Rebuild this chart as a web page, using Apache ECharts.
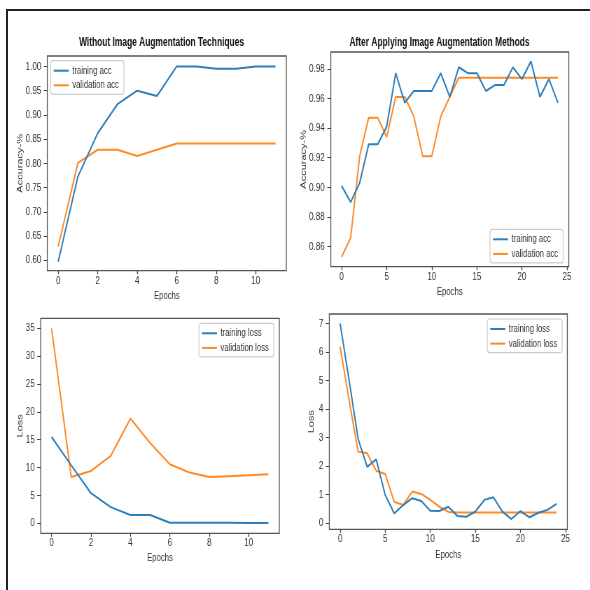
<!DOCTYPE html>
<html>
<head>
<meta charset="utf-8">
<script src="https://cdn.jsdelivr.net/npm/echarts@6/dist/echarts.min.js"></script>
<style>
html,body{margin:0;padding:0;background:#fff;overflow:hidden;}
#wrap{position:relative;width:590px;height:590px;overflow:hidden;}
#chart{position:absolute;left:0;top:0;width:843px;height:590px;transform:scaleX(0.7);transform-origin:0 0;}
#frame{position:absolute;left:6px;top:9px;width:584px;height:581px;border-left:2px solid #222;border-top:2px solid #222;box-sizing:border-box;pointer-events:none;}
</style>
</head>
<body>
<div id="wrap"><div id="chart"></div><div id="frame"></div></div>
<script>
// ---- data ----
const titleLeft = 'Without Image Augmentation Techniques';
const titleRight = 'After Applying Image Augmentation Methods';
const epochsA = [0,1,2,3,4,5,6,7,8,9,10,11];
const trainAccA = [0.597,0.773,0.862,0.922,0.950,0.939,1.000,1.000,0.995,0.995,1.000,1.000];
const valAccA   = [0.628,0.801,0.828,0.828,0.815,0.828,0.841,0.841,0.841,0.841,0.841,0.841];
const trainLossA = [15.5,10.4,5.4,2.9,1.5,1.5,0.1,0.1,0.1,0.1,0.05,0.05];
const valLossA   = [35.0,8.3,9.4,12.1,18.8,14.4,10.6,9.1,8.3,8.45,8.6,8.8];

const epochsB = [0,1,2,3,4,5,6,7,8,9,10,11,12,13,14,15,16,17,18,19,20,21,22,23,24];
const trainAccB = [0.901,0.890,0.903,0.929,0.929,0.941,0.977,0.957,0.965,0.965,0.965,0.977,0.961,0.981,0.977,0.977,0.965,0.969,0.969,0.981,0.973,0.985,0.961,0.973,0.957];
const valAccB   = [0.853,0.866,0.921,0.947,0.947,0.934,0.961,0.961,0.948,0.921,0.921,0.948,0.961,0.974,0.974,0.974,0.974,0.974,0.974,0.974,0.974,0.974,0.974,0.974,0.974];
const trainLossB = [7.0,5.0,2.95,1.98,2.24,0.99,0.35,0.64,0.88,0.78,0.44,0.43,0.58,0.26,0.23,0.41,0.82,0.91,0.41,0.15,0.43,0.21,0.37,0.47,0.68];
const valLossB   = [6.18,4.3,2.51,2.45,1.84,1.73,0.75,0.64,1.11,1.03,0.82,0.58,0.40,0.375,0.375,0.375,0.375,0.375,0.375,0.375,0.375,0.375,0.375,0.375,0.375];

const xTicksA = [0,2,4,6,8,10];
const xTicksB = [0,5,10,15,20,25];
const yTicksAccA = [0.60,0.65,0.70,0.75,0.80,0.85,0.90,0.95,1.00];
const yTicksAccB = [0.86,0.88,0.90,0.92,0.94,0.96,0.98];
const yTicksLossA = [0,5,10,15,20,25,30,35];
const yTicksLossB = [0,1,2,3,4,5,6,7];

// ---- styling ----
// The chart canvas is drawn 1/0.7 wider and squeezed horizontally by CSS (scaleX 0.7)
// to reproduce the condensed look of the reference; X positions below are in the unsqueezed space.
const SX = 0.7;
const px = v => v / SX;
const FONT = "'Liberation Sans',Arial,sans-serif";
const C0 = '#2e7fba', C1 = '#ff8a24';
const pairs = (xs, ys) => xs.map((x, i) => [x, ys[i]]);

function xAxis(idx, min, max, ticks, nameGap) {
  return {
    type: 'value', gridIndex: idx, min: min, max: max,
    name: 'Epochs', nameLocation: 'middle', nameGap: nameGap, nameMoveOverlap: false,
    nameTextStyle: {fontFamily: FONT, fontSize: 11, color: '#333'},
    axisLine: {show: false, onZero: false},
    axisTick: {show: true, length: 3.5, lineStyle: {color: '#444', width: 1.3}, customValues: ticks},
    axisLabel: {fontFamily: FONT, fontSize: 11.5, color: '#333', margin: 4, customValues: ticks},
    splitLine: {show: false}
  };
}
function yAxis(idx, min, max, ticks, name, nameGap, dec) {
  return {
    type: 'value', gridIndex: idx, min: min, max: max,
    name: name, nameLocation: 'middle', nameGap: nameGap, nameRotate: 90, nameMoveOverlap: false,
    nameTextStyle: {fontFamily: FONT, fontSize: 11, color: '#333'},
    axisLine: {show: false, onZero: false},
    axisTick: {show: true, length: px(3.5), lineStyle: {color: '#444'}, customValues: ticks},
    axisLabel: {fontFamily: FONT, fontSize: 11.5, color: '#333', margin: px(6), customValues: ticks,
      formatter: v => dec ? v.toFixed(dec) : String(Math.round(v))},
    splitLine: {show: false}
  };
}
function legend(names, left, top) {
  return {
    data: names, left: px(left), top: top, orient: 'vertical',
    icon: 'rect', itemWidth: px(15), itemHeight: 2, itemGap: 2.6,
    padding: [4, px(5), 3, px(3)],
    backgroundColor: '#fff', borderColor: '#ccc', borderWidth: 1.2, borderRadius: 3,
    textStyle: {fontFamily: FONT, fontSize: 11, color: '#333', lineHeight: 12},
    selectedMode: false
  };
}
function line(name, xi, data, color) {
  return {
    type: 'line', name: name, xAxisIndex: xi, yAxisIndex: xi, data: data,
    showSymbol: false, symbol: 'none', lineStyle: {color: color, width: 2}, itemStyle: {color: color},
    z: color === C0 ? 3 : 2
  };
}

const gridStyle = {show: true, borderColor: '#555', borderWidth: 1.3, backgroundColor: 'transparent'};
const option = {
  animation: false,
  backgroundColor: '#fff',
  title: [
    {text: titleLeft, left: px(158), top: 32, textAlign: 'center', textStyle: {fontFamily: FONT, fontSize: 12, fontWeight: 'bold', color: '#111'}},
    {text: titleRight, left: px(436), top: 32, textAlign: 'center', textStyle: {fontFamily: FONT, fontSize: 12, fontWeight: 'bold', color: '#111'}}
  ],
  grid: [
    Object.assign({left: px(47.3), top: 56, width: px(239), height: 214.7}, gridStyle),
    Object.assign({left: px(330.8), top: 52, width: px(238), height: 214.7}, gridStyle),
    Object.assign({left: px(40.7), top: 318.3, width: px(238.6), height: 215}, gridStyle),
    Object.assign({left: px(329.3), top: 314, width: px(238), height: 215.3}, gridStyle)
  ],
  xAxis: [
    xAxis(0, -0.55, 11.55, xTicksA, 20),
    xAxis(1, -1.2, 25.2, xTicksB, 20),
    xAxis(2, -0.55, 11.55, xTicksA, 19),
    xAxis(3, -1.2, 25.2, xTicksB, 20)
  ],
  yAxis: [
    yAxis(0, 0.5785, 1.0215, yTicksAccA, 'Accuracy-%', 33, 2),
    yAxis(1, 0.8465, 0.9913, yTicksAccB, 'Accuracy-%', 33, 2),
    yAxis(2, -1.8, 36.8, yTicksLossA, 'Loss', 24, 0),
    yAxis(3, -0.21, 7.33, yTicksLossB, 'Loss', 19.5, 0)
  ],
  legend: [
    legend(['training acc', 'validation acc'], 50.7, 60.7),
    legend(['training acc', 'validation acc'], 490, 229.3),
    legend(['training loss', 'validation loss'], 199, 323.3),
    legend(['training loss', 'validation loss'], 487.3, 319)
  ],
  series: [
    line('training acc', 0, pairs(epochsA, trainAccA), C0),
    line('validation acc', 0, pairs(epochsA, valAccA), C1),
    line('training acc', 1, pairs(epochsB, trainAccB), C0),
    line('validation acc', 1, pairs(epochsB, valAccB), C1),
    line('training loss', 2, pairs(epochsA, trainLossA), C0),
    line('validation loss', 2, pairs(epochsA, valLossA), C1),
    line('training loss', 3, pairs(epochsB, trainLossB), C0),
    line('validation loss', 3, pairs(epochsB, valLossB), C1)
  ]
};
const chart = echarts.init(document.getElementById('chart'), null, {renderer: 'canvas'});
chart.setOption(option);
</script>
</body>
</html>
